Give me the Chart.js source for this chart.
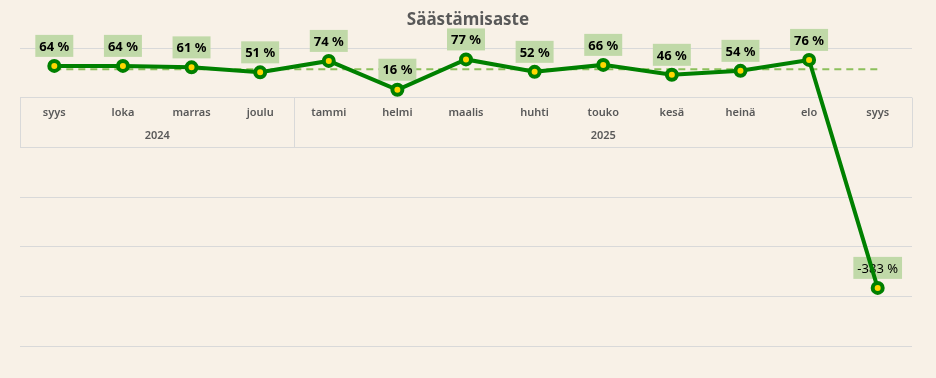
<!DOCTYPE html>
<html>
<head>
<meta charset="utf-8">
<script src="https://cdn.jsdelivr.net/npm/chart.js@4.4.1/dist/chart.umd.min.js"></script>
<style>
  html, body { margin: 0; padding: 0; background: #F8F1E7; }
  #wrap { width: 936px; height: 378px; }
</style>
</head>
<body>
<div id="wrap"><canvas id="chart" width="936" height="378"></canvas></div>
<script>
const months = ['syys', 'loka', 'marras', 'joulu', 'tammi', 'helmi', 'maalis', 'huhti', 'touko', 'kesä', 'heinä', 'elo', 'syys'];
const years = [
    { label: '2024', from: 0, to: 3 },
    { label: '2025', from: 4, to: 12 }
];
const savingRate = [64, 64, 61, 51, 74, 16, 77, 52, 66, 46, 54, 76, -383];
const avgLine = [57, 57, 57, 57, 57, 57, 57, 57, 57, 57, 57, 57, 57];

const gridColor = '#D9D9D9';
const textGray = '#595959';

// custom drawing: title, two-level category axis, data labels
const excelLook = {
    id: 'excelLook',
    beforeDatasetsDraw(chart) {
        const ctx = chart.ctx;
        const x = chart.scales.x;
        const y = chart.scales.y;
        const area = chart.chartArea;
        const top = y.getPixelForValue(0);
        const bottom = y.getPixelForValue(-100);
        const step = x.getPixelForValue(1) - x.getPixelForValue(0);

        ctx.save();
        ctx.strokeStyle = gridColor;
        ctx.lineWidth = 1;
        var seps = [area.left, area.right];
        years.forEach(function (yr) {
            if (yr.from > 0) seps.push(x.getPixelForValue(yr.from) - step / 2);
        });
        seps.forEach(function (px) {
            ctx.beginPath();
            ctx.moveTo(Math.round(px) + 0.5, top);
            ctx.lineTo(Math.round(px) + 0.5, bottom);
            ctx.stroke();
        });

        ctx.fillStyle = textGray;
        ctx.textAlign = 'center';
        ctx.textBaseline = 'middle';
        ctx.font = '600 11px "Noto Sans"';
        months.forEach(function (m, i) {
            ctx.fillText(m, x.getPixelForValue(i), top + 15);
        });
        years.forEach(function (yr) {
            const l = x.getPixelForValue(yr.from) - step / 2;
            const r = x.getPixelForValue(yr.to) + step / 2;
            ctx.fillText(yr.label, (l + Math.min(r, area.right)) / 2, top + 38);
        });

        ctx.font = 'bold 17px "Noto Sans"';
        ctx.fillText('Säästämisaste', chart.width / 2, 20);
        ctx.restore();
    },
    afterDatasetDraw(chart, args) {
        // labels go between the dashed line and the main line
        if (args.index !== 1) return;
        const ctx = chart.ctx;
        const meta = chart.getDatasetMeta(0);
        ctx.save();
        ctx.textAlign = 'center';
        ctx.textBaseline = 'middle';
        meta.data.forEach(function (pt, i) {
            const v = savingRate[i];
            const txt = v + ' %';
            ctx.font = (v < 0 ? '' : 'bold ') + '13px "Noto Sans"';
            const w = ctx.measureText(txt).width + 8;
            const h = 22;
            const bx = pt.x - w / 2;
            const by = pt.y - 9 - h;
            ctx.fillStyle = '#C0D9A8';
            ctx.fillRect(bx, by, w, h);
            ctx.fillStyle = '#000000';
            ctx.fillText(txt, pt.x, by + h / 2 + 1);
        });
        ctx.restore();
    }
};

new Chart(document.getElementById('chart'), {
    type: 'line',
    data: {
        labels: months,
        datasets: [{
            label: 'Säästämisaste',
            data: savingRate,
            borderColor: '#008000',
            borderWidth: 4,
            pointRadius: 5,
            pointBorderWidth: 4,
            pointBorderColor: '#008000',
            pointBackgroundColor: '#FFD700',
            tension: 0
        }, {
            label: 'Keskiarvo',
            data: avgLine,
            borderColor: '#8CC05C',
            borderWidth: 2,
            borderDash: [7, 5],
            pointRadius: 0,
            tension: 0
        }]
    },
    options: {
        responsive: false,
        animation: false,
        layout: { padding: { left: 20, right: 24, top: 48, bottom: 32 } },
        plugins: {
            legend: { display: false },
            tooltip: { enabled: false },
            title: { display: false }
        },
        scales: {
            x: {
                display: false,
                offset: true
            },
            y: {
                min: -500,
                max: 100,
                ticks: { display: false, stepSize: 100 },
                border: { display: false },
                grid: { color: gridColor, drawTicks: false, lineWidth: 1 },
                afterFit: function (s) { s.width = 0; }
            }
        }
    },
    plugins: [excelLook]
});
</script>
</body>
</html>
